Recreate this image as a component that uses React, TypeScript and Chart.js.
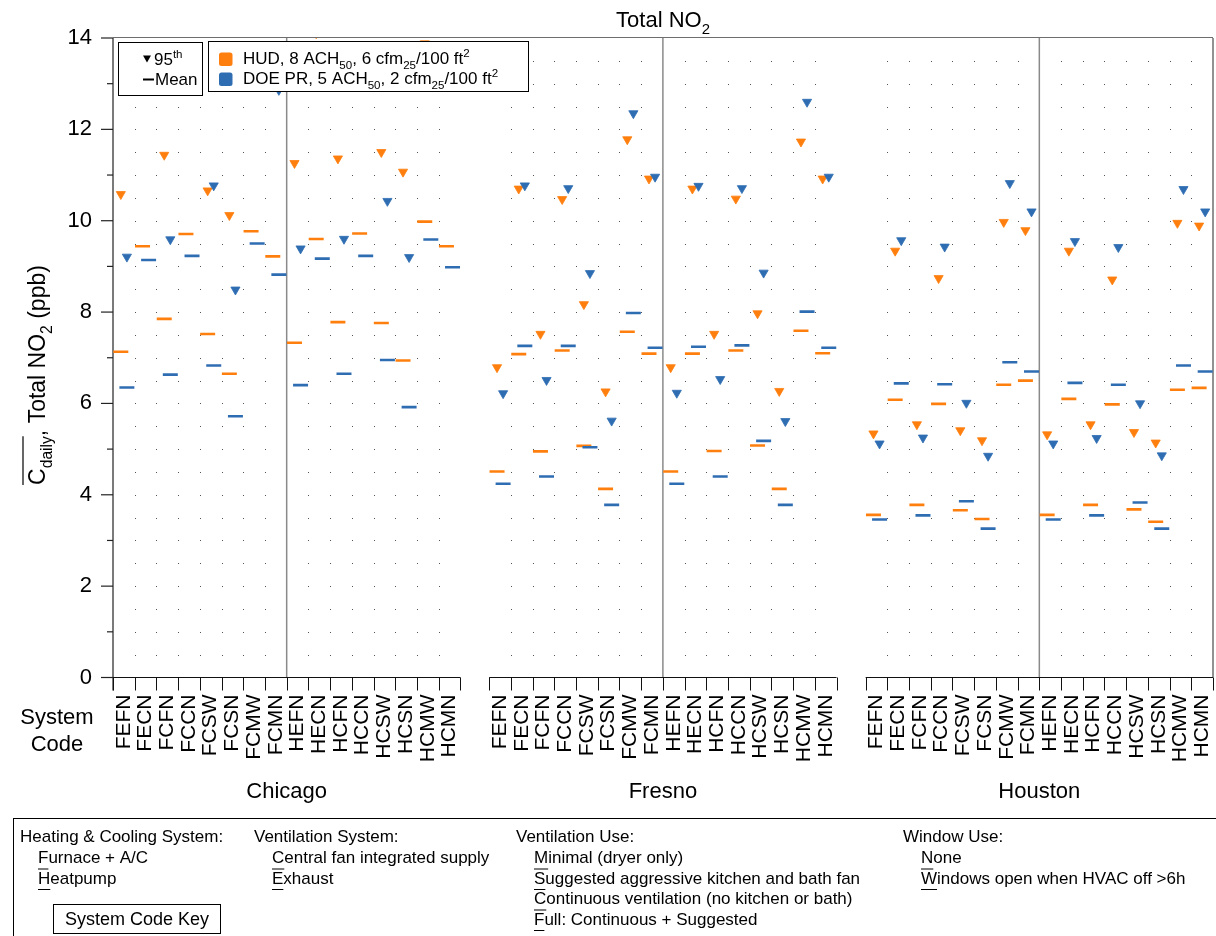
import React, { useEffect, useRef } from 'react';
import { Chart, registerables } from 'chart.js';

Chart.register(...registerables);

// ---------------- data ----------------
const CITIES = ['Chicago', 'Fresno', 'Houston'];
const SYSTEM_CODES = ['FEFN', 'FECN', 'FCFN', 'FCCN', 'FCSW', 'FCSN', 'FCMW', 'FCMN', 'HEFN', 'HECN', 'HCFN', 'HCCN', 'HCSW', 'HCSN', 'HCMW', 'HCMN'];
const Y_MAX = 14;

// HUD, 8 ACH50, 6 cfm25/100 ft2
const chicagoHud95 = [10.58, 13.6, 11.44, 14.3, 10.66, 10.12, 14.4, 13.5, 11.26, 14.1, 11.36, 14.3, 11.5, 11.07, 13.88, 13.5];
const chicagoHudMean = [7.13, 9.44, 7.85, 9.71, 7.52, 6.65, 9.77, 9.22, 7.33, 9.6, 7.78, 9.72, 7.76, 6.94, 9.98, 9.44];
const fresnoHud95 = [6.79, 10.7, 7.52, 10.47, 8.17, 6.26, 11.78, 10.92, 6.79, 10.7, 7.52, 10.48, 7.97, 6.27, 11.73, 10.92];
const fresnoHudMean = [4.51, 7.08, 4.95, 7.16, 5.07, 4.13, 7.57, 7.09, 4.51, 7.09, 4.96, 7.16, 5.08, 4.13, 7.59, 7.1];
const houstonHud95 = [5.34, 9.34, 5.54, 8.74, 5.41, 5.19, 9.97, 9.79, 5.32, 9.34, 5.54, 8.71, 5.37, 5.14, 9.95, 9.89];
const houstonHudMean = [3.56, 6.08, 3.78, 5.99, 3.66, 3.47, 6.41, 6.5, 3.56, 6.1, 3.78, 5.98, 3.68, 3.41, 6.3, 6.34];

// DOE PR, 5 ACH50, 2 cfm25/100 ft2
const chicagoDoe95 = [9.21, 13.4, 9.59, 13.6, 10.77, 8.49, 14.2, 12.86, 9.39, 13.5, 9.6, 13.7, 10.43, 9.2, 14.5, 13.3];
const chicagoDoeMean = [6.35, 9.14, 6.63, 9.23, 6.83, 5.72, 9.5, 8.82, 6.4, 9.17, 6.65, 9.23, 6.95, 5.92, 9.59, 8.98];
const fresnoDoe95 = [6.22, 10.77, 6.51, 10.71, 8.85, 5.62, 12.35, 10.96, 6.23, 10.76, 6.53, 10.71, 8.86, 5.61, 12.6, 10.96];
const fresnoDoeMean = [4.24, 7.26, 4.4, 7.26, 5.04, 3.78, 7.98, 7.22, 4.24, 7.24, 4.4, 7.27, 5.18, 3.78, 8.01, 7.22];
const houstonDoe95 = [5.12, 9.57, 5.25, 9.43, 6.01, 4.85, 10.82, 10.2, 5.12, 9.55, 5.24, 9.42, 6.0, 4.86, 10.69, 10.2];
const houstonDoeMean = [3.46, 6.44, 3.55, 6.42, 3.86, 3.26, 6.9, 6.7, 3.46, 6.45, 3.55, 6.41, 3.83, 3.26, 6.83, 6.7];

const KEY_COLUMNS = [
  { head: 'Heating & Cooling System:', items: ['Furnace + A/C', 'Heatpump'] },
  { head: 'Ventilation System:', items: ['Central fan integrated supply', 'Exhaust'] },
  { head: 'Ventilation Use:', items: ['Minimal (dryer only)', 'Suggested aggressive kitchen and bath fan', 'Continuous ventilation (no kitchen or bath)', 'Full: Continuous + Suggested'] },
  { head: 'Window Use:', items: ['None', 'Windows open when HVAC off >6h'] },
];

// ---------------- layout constants ----------------
const W = 1216;
const H = 936;
const CITY_STARTS = [0, 17.33, 34.67];
const X_MAX = 50.67;
const HALF_OFFSET = 0.14;
const ORANGE = '#FF7F0E';
const BLUE = '#2F6DB3';
const FONT = '"Liberation Sans", Arial, Helvetica, sans-serif';
const KEY_X = [20, 254, 516, 903];

const hud95 = [...chicagoHud95, ...fresnoHud95, ...houstonHud95];
const hudMean = [...chicagoHudMean, ...fresnoHudMean, ...houstonHudMean];
const doe95 = [...chicagoDoe95, ...fresnoDoe95, ...houstonDoe95];
const doeMean = [...chicagoDoeMean, ...fresnoDoeMean, ...houstonDoeMean];

const centers = CITY_STARTS.flatMap((s) => SYSTEM_CODES.map((_, i) => s + i + 0.5));
const tickLabels = CITY_STARTS.flatMap(() => SYSTEM_CODES);

const toPoints = (vals: number[], off: number) => vals.map((v, i) => ({ x: centers[i] + off, y: v }));

type Seg = { t: string; k?: 'sub' | 'sup' };

function drawRich(ctx: CanvasRenderingContext2D, segs: Seg[], x: number, y: number, size: number, align: 'left' | 'center') {
  const parts = segs.map((s) => {
    const fs = s.k ? size * 0.68 : size;
    ctx.font = `${fs}px ${FONT}`;
    return { ...s, fs, w: ctx.measureText(s.t).width };
  });
  const total = parts.reduce((a, p) => a + p.w, 0);
  let cx = align === 'center' ? x - total / 2 : x;
  ctx.textAlign = 'left';
  ctx.textBaseline = 'alphabetic';
  const xs: number[] = [];
  for (const p of parts) {
    ctx.font = `${p.fs}px ${FONT}`;
    const dy = p.k === 'sub' ? size * 0.3 : p.k === 'sup' ? -size * 0.42 : 0;
    xs.push(cx);
    ctx.fillText(p.t, cx, y + dy);
    cx += p.w;
  }
  xs.push(cx);
  return { total, xs };
}

const decorPlugin = {
  id: 'decor',
  beforeDatasetsDraw(chart: any) {
    const { ctx, chartArea, scales } = chart;
    const xs = scales.x;
    const ys = scales.y;
    ctx.save();
    // dotted grid
    ctx.fillStyle = '#555';
    for (const s of CITY_STARTS) {
      for (let k = 1; k < 16; k++) {
        if (k === 8) continue;
        const px = Math.round(xs.getPixelForValue(s + k));
        for (let v = 0.5; v < Y_MAX; v += 0.5) {
          const py = Math.round(ys.getPixelForValue(v));
          ctx.fillRect(px, py, 1, 1);
        }
      }
    }
    // F/H dividers
    ctx.strokeStyle = '#8a8a8a';
    ctx.lineWidth = 1.5;
    for (const s of CITY_STARTS) {
      const px = xs.getPixelForValue(s + 8);
      ctx.beginPath();
      ctx.moveTo(px, chartArea.top);
      ctx.lineTo(px, chartArea.bottom);
      ctx.stroke();
    }
    // frame: top and right
    ctx.strokeStyle = '#6e6e6e';
    ctx.lineWidth = 1;
    ctx.beginPath();
    ctx.moveTo(chartArea.left, chartArea.top - 0.5);
    ctx.lineTo(chartArea.right, chartArea.top - 0.5);
    ctx.stroke();
    ctx.lineWidth = 1.5;
    ctx.beginPath();
    ctx.moveTo(chartArea.right, chartArea.top);
    ctx.lineTo(chartArea.right, chartArea.bottom);
    ctx.stroke();
    // left axis line
    ctx.strokeStyle = '#7a7a7a';
    ctx.lineWidth = 2;
    ctx.beginPath();
    ctx.moveTo(chartArea.left, chartArea.top);
    ctx.lineTo(chartArea.left, chartArea.bottom + 13);
    ctx.stroke();
    // y ticks
    ctx.strokeStyle = '#222';
    ctx.lineWidth = 1.2;
    for (let v = 0; v <= Y_MAX; v++) {
      const py = ys.getPixelForValue(v);
      const len = v % 2 === 0 ? 12 : 6;
      ctx.beginPath();
      ctx.moveTo(chartArea.left - len, py);
      ctx.lineTo(chartArea.left, py);
      ctx.stroke();
    }
    // broken x axis + ticks
    ctx.strokeStyle = '#111';
    ctx.lineWidth = 1;
    for (const s of CITY_STARTS) {
      const a = xs.getPixelForValue(s);
      const b = xs.getPixelForValue(s + 16);
      ctx.beginPath();
      ctx.moveTo(a, chartArea.bottom);
      ctx.lineTo(b, chartArea.bottom);
      ctx.stroke();
      for (let k = 0; k <= 16; k++) {
        const px = Math.round(xs.getPixelForValue(s + k)) + 0.5;
        ctx.beginPath();
        ctx.moveTo(px, chartArea.bottom);
        ctx.lineTo(px, chartArea.bottom + 13);
        ctx.stroke();
      }
    }
    ctx.restore();
  },
  afterDatasetsDraw(chart: any) {
    const { ctx, chartArea, scales } = chart;
    const xs = scales.x;
    ctx.save();
    ctx.fillStyle = '#000';
    // title
    drawRich(ctx, [{ t: 'Total NO' }, { t: '2', k: 'sub' }], (chartArea.left + chartArea.right) / 2, 27, 22, 'center');

    // y-axis title
    ctx.save();
    ctx.translate(37, 375);
    ctx.rotate(-Math.PI / 2);
    const r = drawRich(ctx, [{ t: 'C' }, { t: 'daily', k: 'sub' }, { t: ', Total NO' }, { t: '2', k: 'sub' }, { t: ' (ppb)' }], 0, 8, 23, 'center');
    ctx.strokeStyle = '#000';
    ctx.lineWidth = 1.2;
    ctx.beginPath();
    ctx.moveTo(r.xs[0], -14);
    ctx.lineTo(r.xs[2], -14);
    ctx.stroke();
    ctx.restore();

    // legend box 1
    ctx.fillStyle = '#fff';
    ctx.strokeStyle = '#000';
    ctx.lineWidth = 1;
    ctx.fillRect(118.5, 42.5, 84, 53);
    ctx.strokeRect(118.5, 42.5, 84, 53);
    ctx.fillStyle = '#000';
    ctx.beginPath();
    ctx.moveTo(143, 55.5);
    ctx.lineTo(151, 55.5);
    ctx.lineTo(147, 62.5);
    ctx.closePath();
    ctx.fill();
    drawRich(ctx, [{ t: '95' }, { t: 'th', k: 'sup' }], 154, 65, 17, 'left');
    ctx.fillRect(143, 78.5, 11, 2);
    drawRich(ctx, [{ t: 'Mean' }], 155, 85, 17, 'left');

    // legend box 2
    ctx.fillStyle = '#fff';
    ctx.fillRect(208.5, 41.5, 320, 50);
    ctx.strokeRect(208.5, 41.5, 320, 50);
    const sq = (c: string, y: number) => {
      ctx.fillStyle = c;
      ctx.beginPath();
      (ctx as any).roundRect(219, y, 13.5, 13.5, 2.5);
      ctx.fill();
    };
    sq(ORANGE, 52.5);
    sq(BLUE, 72.5);
    ctx.fillStyle = '#000';
    drawRich(ctx, [{ t: 'HUD, 8 ACH' }, { t: '50', k: 'sub' }, { t: ', 6 cfm' }, { t: '25', k: 'sub' }, { t: '/100 ft' }, { t: '2', k: 'sup' }], 243, 64, 17, 'left');
    drawRich(ctx, [{ t: 'DOE PR, 5 ACH' }, { t: '50', k: 'sub' }, { t: ', 2 cfm' }, { t: '25', k: 'sub' }, { t: '/100 ft' }, { t: '2', k: 'sup' }], 243, 84, 17, 'left');

    // System Code label
    ctx.font = `22px ${FONT}`;
    ctx.textAlign = 'center';
    ctx.textBaseline = 'alphabetic';
    ctx.fillText('System', 57, 724);
    ctx.fillText('Code', 57, 751);

    // city labels
    CITY_STARTS.forEach((s, i) => {
      ctx.fillText(CITIES[i], xs.getPixelForValue(s + 8), 798);
    });

    // key box
    ctx.strokeStyle = '#000';
    ctx.lineWidth = 1;
    ctx.strokeRect(13.5, 818.5, 1300, 200);
    ctx.font = `17px ${FONT}`;
    ctx.textAlign = 'left';
    KEY_COLUMNS.forEach((col, ci) => {
      const x0 = KEY_X[ci];
      ctx.fillText(col.head, x0, 842);
      col.items.forEach((it, ii) => {
        const bx = x0 + 18;
        const by = 863 + ii * 20.5;
        ctx.fillText(it, bx, by);
        const fw = ctx.measureText(it[0]).width;
        ctx.fillRect(bx, by + 5.5, fw, 1);
      });
    });
    ctx.strokeRect(53.5, 904.5, 167, 29);
    ctx.font = `18px ${FONT}`;
    ctx.textAlign = 'center';
    ctx.fillText('System Code Key', 137, 925);
    ctx.restore();
  },
};

export default function App() {
  const ref = useRef<HTMLCanvasElement>(null);
  useEffect(() => {
    if (!ref.current) return;
    const tri = (c: string) => ({
      pointStyle: 'triangle',
      pointRotation: 180,
      pointRadius: 5.3,
      pointHoverRadius: 5.3,
      pointBackgroundColor: c,
      pointBorderColor: c,
      pointBorderWidth: 0.8,
      showLine: false,
      clip: 0,
    });
    const dash = (c: string) => ({
      pointStyle: 'line',
      pointRadius: 7.5,
      pointHoverRadius: 7.5,
      pointBackgroundColor: c,
      pointBorderColor: c,
      pointBorderWidth: 2.6,
      showLine: false,
      clip: 0,
    });
    const chart = new Chart(ref.current, {
      type: 'scatter',
      data: {
        datasets: [
          { label: 'DOE PR 95th', data: toPoints(doe95, HALF_OFFSET), ...tri(BLUE) },
          { label: 'DOE PR Mean', data: toPoints(doeMean, HALF_OFFSET), ...dash(BLUE) },
          { label: 'HUD 95th', data: toPoints(hud95, -HALF_OFFSET), ...tri(ORANGE) },
          { label: 'HUD Mean', data: toPoints(hudMean, -HALF_OFFSET), ...dash(ORANGE) },
        ] as any,
      },
      options: {
        responsive: false,
        animation: false,
        events: [],
        layout: { autoPadding: false, padding: { top: 38, right: 3, left: 0, bottom: 0 } },
        plugins: {
          legend: { display: false },
          tooltip: { enabled: false },
          title: { display: false },
        },
        scales: {
          x: {
            type: 'linear',
            min: 0,
            max: X_MAX,
            afterBuildTicks: (s: any) => {
              s.ticks = centers.map((v) => ({ value: v }));
            },
            afterFit: (s: any) => {
              s.height = H - 677.5;
              s.paddingLeft = 0;
              s.paddingRight = 0;
            },
            grid: { display: false, drawTicks: false },
            border: { display: false },
            ticks: {
              autoSkip: false,
              minRotation: 90,
              maxRotation: 90,
              padding: 17,
              color: '#000',
              font: { family: FONT, size: 21 },
              callback: (_v: any, i: number) => tickLabels[i],
            },
          },
          y: {
            type: 'linear',
            min: 0,
            max: Y_MAX,
            afterFit: (s: any) => {
              s.width = 113;
              s.paddingTop = 0;
              s.paddingBottom = 0;
            },
            grid: { drawOnChartArea: false, drawTicks: true, tickLength: 12, tickColor: 'rgba(0,0,0,0)' },
            border: { display: false },
            ticks: {
              stepSize: 1,
              padding: 9,
              color: '#000',
              font: { family: FONT, size: 22 },
              callback: (v: any) => (Number(v) % 2 === 0 ? String(v) : ''),
            },
          },
        },
      } as any,
      plugins: [decorPlugin],
    });
    return () => chart.destroy();
  }, []);
  return (
    <div style={{ position: 'absolute', left: 0, top: 0, width: W, height: H, background: '#fff' }}>
      <canvas ref={ref} width={W} height={H} style={{ display: 'block' }} />
    </div>
  );
}
